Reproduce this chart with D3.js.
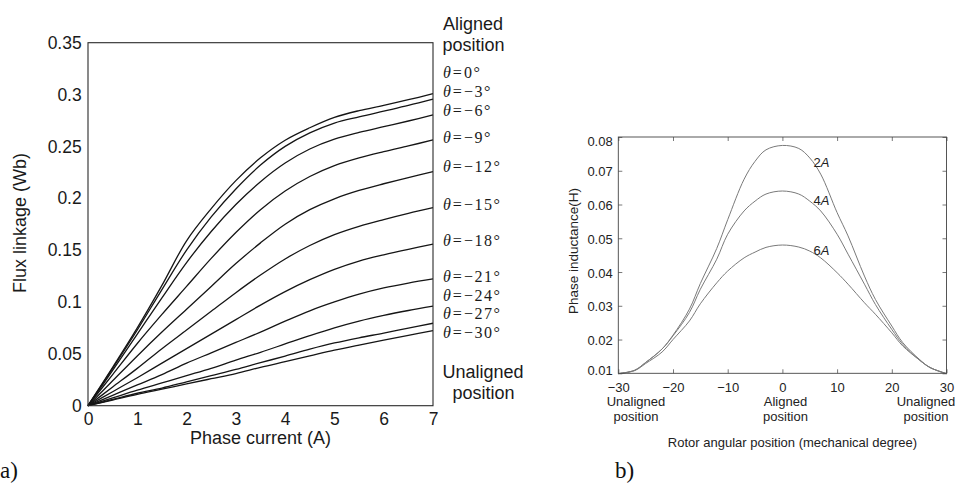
<!DOCTYPE html>
<html><head><meta charset="utf-8">
<script src="https://cdn.jsdelivr.net/npm/d3@7"></script>
<style>
html,body{margin:0;padding:0;background:#fff;}
svg{display:block;}
</style></head>
<body>
<svg id="c" width="955" height="487"></svg>
<script>
// ---------- data: (a) flux linkage vs phase current ----------
const currents = [0,0.5,1,1.5,2,2.5,3,3.5,4,4.5,5,5.5,6,6.5,7];
const flux_0   = [0,.037,.075,.116,.159,.190,.217,.239,.256,.268,.278,.2845,.2895,.295,.301];
const flux_m3  = [0,.036,.073,.112,.150,.182,.209,.232,.250,.263,.2725,.2785,.284,.2895,.2955];
const flux_m6  = [0,.034,.069,.104,.138,.168,.194,.216,.234,.2475,.257,.2635,.269,.2745,.2803];
const flux_m9  = [0,.030,.060,.088,.115,.142,.167,.189,.207,.221,.2315,.239,.245,.2505,.2562];
const flux_m12 = [0,.024,.048,.071,.093,.115,.137,.157,.175,.189,.1995,.2075,.214,.2200,.2256];
const flux_m15 = [0,.018,.036,.055,.073,.091,.109,.126,.1415,.1545,.1650,.1730,.1795,.1855,.1909];
const flux_m18 = [0,.0135,.027,.041,.055,.069,.083,.097,.110,.1215,.1315,.1395,.1455,.1508,.1557];
const flux_m21 = [0,.010,.020,.030,.041,.051,.061,.071,.0815,.0915,.100,.1075,.1135,.1182,.1222];
const flux_m24 = [0,.0075,.015,.022,.029,.036,.044,.0515,.0595,.0675,.0750,.0815,.0870,.0918,.0961];
const flux_m27 = [0,.006,.012,.017,.023,.029,.035,.0415,.0478,.0545,.0605,.0655,.0700,.0748,.0795];
const flux_m30 = [0,.0055,.011,.016,.021,.026,.031,.037,.0425,.048,.0535,.0585,.0633,.0679,.0723];
const fluxSeries = [flux_0,flux_m3,flux_m6,flux_m9,flux_m12,flux_m15,flux_m18,flux_m21,flux_m24,flux_m27,flux_m30];
const angleLabels = ["0","−3","−6","−9","−12","−15","−18","−21","−24","−27","−30"];
const currentTicks = [0,1,2,3,4,5,6,7];
const fluxTicks = [0,0.05,0.1,0.15,0.2,0.25,0.3,0.35];

// ---------- data: (b) phase inductance vs rotor position ----------
const rotorDeg = [-30,-27,-25,-22,-20,-17,-15,-12,-10,-7,-5,-3,0,3,5,7,10,12,15,17,20,22,25,27,30];
const L_2A = [.0099,.0109,.0132,.0172,.0213,.0290,.0366,.0470,.0555,.0675,.0728,.0762,.0775,.0766,.0738,.0690,.0576,.0507,.0388,.0319,.0240,.0191,.0142,.0117,.0099];
const L_4A = [.0099,.0109,.0132,.0172,.0211,.0280,.0349,.0438,.0512,.0581,.0610,.0631,.0640,.0631,.0610,.0581,.0512,.0453,.0364,.0304,.0230,.0186,.0140,.0117,.0099];
const L_6A = [.0099,.0108,.0129,.0163,.0200,.0255,.0306,.0368,.0403,.0442,.0459,.0473,.0480,.0474,.0462,.0442,.0398,.0364,.0309,.0275,.0220,.0181,.0140,.0117,.0099];
const inductSeries = [L_2A, L_4A, L_6A];
const currentLabels = ["2","4","6"];
const degTicks = [-30,-20,-10,0,10,20,30];
const inductTicks = [0.01,0.02,0.03,0.04,0.05,0.06,0.07,0.08];

const svg = d3.select("#c");
svg.append("rect").attr("width",955).attr("height",487).attr("fill","#fff");
const sans = "'Liberation Sans', Arial, Helvetica, sans-serif";
const serif = "'Liberation Serif', 'Times New Roman', serif";

// ================= Chart (a) =================
const xA = d3.scaleLinear().domain([0,7]).range([88,433]);
const yA = d3.scaleLinear().domain([0,0.35]).range([405.7,42.7]);
const gA = svg.append("g");
const fmt = d3.format("~g");

const axXA = gA.append("g").attr("transform",`translate(0,${yA(0)})`)
  .call(d3.axisBottom(xA).tickValues(currentTicks).tickSize(0).tickPadding(7).tickFormat(fmt));
const axYA = gA.append("g").attr("transform",`translate(${xA(0)},0)`)
  .call(d3.axisLeft(yA).tickValues(fluxTicks).tickSize(0).tickPadding(6.3).tickFormat(fmt));
[axXA,axYA].forEach(a=>{
  a.select(".domain").remove();
  a.selectAll("text").attr("font-family",sans).attr("font-size",17.5).attr("fill","#1a1a1a");
});

const lineA = d3.line().x((d,i)=>xA(currents[i])).y(d=>yA(d)).curve(d3.curveCatmullRom.alpha(0.5));
gA.selectAll("path.flux").data(fluxSeries).join("path")
  .attr("class","flux").attr("d",lineA)
  .attr("fill","none").attr("stroke","#151515").attr("stroke-width",1.3);

gA.append("rect").attr("x",xA(0)).attr("y",yA(0.35))
  .attr("width",xA(7)-xA(0)).attr("height",yA(0)-yA(0.35))
  .attr("fill","none").attr("stroke","#2a2a2a").attr("stroke-width",1.1);

gA.append("text").attr("x",(xA(0)+xA(7))/2).attr("y",443.5)
  .attr("text-anchor","middle").attr("font-family",sans).attr("font-size",18).attr("fill","#1a1a1a")
  .text("Phase current (A)");
gA.append("text").attr("transform","translate(25.5,223) rotate(-90)")
  .attr("text-anchor","middle").attr("font-family",sans).attr("font-size",18).attr("fill","#1a1a1a")
  .text("Flux linkage (Wb)");

// right-side annotations
const annA = gA.append("g").attr("font-family",sans).attr("font-size",18).attr("fill","#1a1a1a").attr("text-anchor","middle");
annA.append("text").attr("x",473).attr("y",29.5).text("Aligned");
annA.append("text").attr("x",473.5).attr("y",50.5).text("position");
annA.append("text").attr("x",483).attr("y",378).text("Unaligned");
annA.append("text").attr("x",483.5).attr("y",398.5).text("position");

const labelY = [72,91,110,137,166,204,240,276,295,313.5,332];
const th = gA.selectAll("text.theta").data(angleLabels).join("text")
  .attr("class","theta").attr("x",443).attr("y",(d,i)=>labelY[i]+5.5)
  .attr("font-family",serif).attr("font-size",16).attr("letter-spacing",1.5).attr("fill","#1a1a1a");
th.append("tspan").attr("font-style","italic").text("θ");
th.append("tspan").attr("dx",0.5).text("=");
th.append("tspan").attr("dx",0.5).text(d=>d+"°");

svg.append("text").attr("x",0).attr("y",478).attr("font-family",serif).attr("font-size",23).attr("fill","#111").text("a)");

// ================= Chart (b) =================
const xB = d3.scaleLinear().domain([-30,30]).range([618.3,946.5]);
const yB = d3.scaleLinear().domain([0.01,0.08]).range([373.3,137]);
const gB = svg.append("g");

const axXB = gB.append("g").attr("transform",`translate(0,${yB(0.01)})`)
  .call(d3.axisBottom(xB).tickValues(degTicks).tickSizeInner(-4).tickSizeOuter(0).tickPadding(9.5));
const axXB2 = gB.append("g").attr("transform",`translate(0,${yB(0.08)})`)
  .call(d3.axisTop(xB).tickValues(degTicks).tickSizeInner(-4).tickSizeOuter(0).tickFormat(""));
const axYB = gB.append("g").attr("transform",`translate(${xB(-30)},0)`)
  .call(d3.axisLeft(yB).tickValues(inductTicks).tickSizeInner(-4).tickSizeOuter(0).tickPadding(5.6).tickFormat(d3.format(".2f")));
const axYB2 = gB.append("g").attr("transform",`translate(${xB(30)},0)`)
  .call(d3.axisRight(yB).tickValues(inductTicks).tickSizeInner(-4).tickSizeOuter(0).tickFormat(""));
[axXB,axXB2,axYB,axYB2].forEach(a=>{
  a.select(".domain").remove();
  a.selectAll("line").attr("stroke","#555").attr("stroke-width",0.8);
  a.selectAll("text").attr("font-family",sans).attr("font-size",13).attr("fill","#222");
});
// keep extreme y labels inside the frame, as in the original
axYB.selectAll(".tick text")
  .attr("transform",d=> d===0.08 ? "translate(0,4.5)" : d===0.01 ? "translate(0,-2.5)" : "translate(0,1)");

const lineB = d3.line().x((d,i)=>xB(rotorDeg[i])).y(d=>yB(d)).curve(d3.curveCatmullRom.alpha(0.5));
gB.selectAll("path.ind").data(inductSeries).join("path")
  .attr("class","ind").attr("d",lineB)
  .attr("fill","none").attr("stroke","#7a7a7a").attr("stroke-width",1);

gB.append("rect").attr("x",xB(-30)).attr("y",yB(0.08))
  .attr("width",xB(30)-xB(-30)).attr("height",yB(0.01)-yB(0.08))
  .attr("fill","none").attr("stroke","#444").attr("stroke-width",0.9);

const curLabY = [162.7,200.7,250];
const cl = gB.selectAll("text.cur").data(currentLabels).join("text")
  .attr("class","cur").attr("x",821.5).attr("y",(d,i)=>curLabY[i]+4.6)
  .attr("text-anchor","middle").attr("font-family",sans).attr("font-size",13).attr("fill","#222");
cl.append("tspan").text(d=>d);
cl.append("tspan").attr("font-style","italic").text("A");

const annB = gB.append("g").attr("font-family",sans).attr("font-size",13).attr("fill","#222").attr("text-anchor","middle");
annB.append("text").attr("x",636).attr("y",406.3).text("Unaligned");
annB.append("text").attr("x",636).attr("y",421.3).text("position");
annB.append("text").attr("x",785.5).attr("y",406.3).text("Aligned");
annB.append("text").attr("x",785.5).attr("y",421.3).text("position");
annB.append("text").attr("x",926).attr("y",406.3).text("Unaligned");
annB.append("text").attr("x",926).attr("y",421.3).text("position");
annB.append("text").attr("x",792.5).attr("y",447.3).text("Rotor angular position (mechanical degree)");
gB.append("text").attr("transform","translate(578,251) rotate(-90)")
  .attr("text-anchor","middle").attr("font-family",sans).attr("font-size",13.5).attr("fill","#222")
  .text("Phase inductance(H)");

svg.append("text").attr("x",615).attr("y",478).attr("font-family",serif).attr("font-size",23).attr("fill","#111").text("b)");
</script>
</body></html>
